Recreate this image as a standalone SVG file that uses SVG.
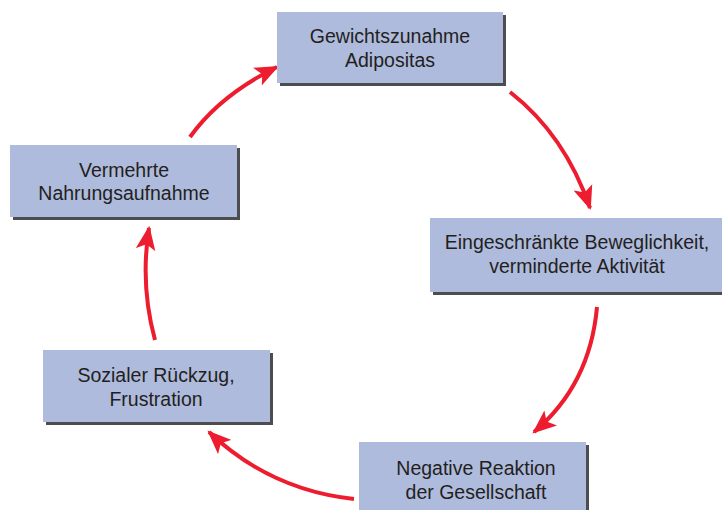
<svg xmlns="http://www.w3.org/2000/svg" width="722" height="510" viewBox="0 0 722 510">
<style>
.box{fill:#aebbdd}
.sh{fill:#4d4d4f}
.t{font-family:"Liberation Sans",Arial,sans-serif;font-size:19.5px;fill:#231f20;text-anchor:middle}
.c{fill:none;stroke:#ed1c2e;stroke-width:4}
</style>
<defs>
<marker id="ah" markerUnits="userSpaceOnUse" markerWidth="24" markerHeight="20" viewBox="0 0 22 18" refX="20" refY="9" orient="auto">
<path d="M0,0 L22,9 L0,18 L5,9 z" fill="#ed1c2e"/>
</marker>
</defs>
<rect width="722" height="510" fill="#fff"/>
<g id="connectors">
<path class="c" d="M190,137 Q220,95 277,67" marker-end="url(#ah)"/>
<path class="c" d="M510,92 Q565,135 590,208" marker-end="url(#ah)"/>
<path class="c" d="M597,307 Q590,385 534,432" marker-end="url(#ah)"/>
<path class="c" d="M354,499 Q270,490 209,432" marker-end="url(#ah)"/>
<path class="c" d="M155,340 Q140,285 149,228" marker-end="url(#ah)"/>
</g>
<g id="n1">
<rect class="sh" x="280" y="15" width="226" height="71"/>
<rect class="box" x="277" y="12" width="226" height="71"/>
<text class="t" x="390" y="43">Gewichtszunahme</text>
<text class="t" x="390" y="67">Adipositas</text>
</g>
<g id="n2">
<rect class="sh" x="433" y="221" width="292" height="74"/>
<rect class="box" x="430" y="218" width="292" height="74"/>
<text class="t" x="577" y="249">Eingeschränkte Beweglichkeit,</text>
<text class="t" x="577" y="273">verminderte Aktivität</text>
</g>
<g id="n3">
<rect class="sh" x="362" y="445" width="227" height="70"/>
<rect class="box" x="359" y="442" width="227" height="70"/>
<text class="t" x="476" y="475">Negative Reaktion</text>
<text class="t" x="476" y="499">der Gesellschaft</text>
</g>
<g id="n4">
<rect class="sh" x="46" y="353" width="227" height="72"/>
<rect class="box" x="43" y="350" width="227" height="72"/>
<text class="t" x="156" y="382">Sozialer Rückzug,</text>
<text class="t" x="156" y="406">Frustration</text>
</g>
<g id="n5">
<rect class="sh" x="13" y="148" width="227" height="72"/>
<rect class="box" x="10" y="145" width="227" height="72"/>
<text class="t" x="124" y="177">Vermehrte</text>
<text class="t" x="124" y="200">Nahrungsaufnahme</text>
</g>
</svg>
